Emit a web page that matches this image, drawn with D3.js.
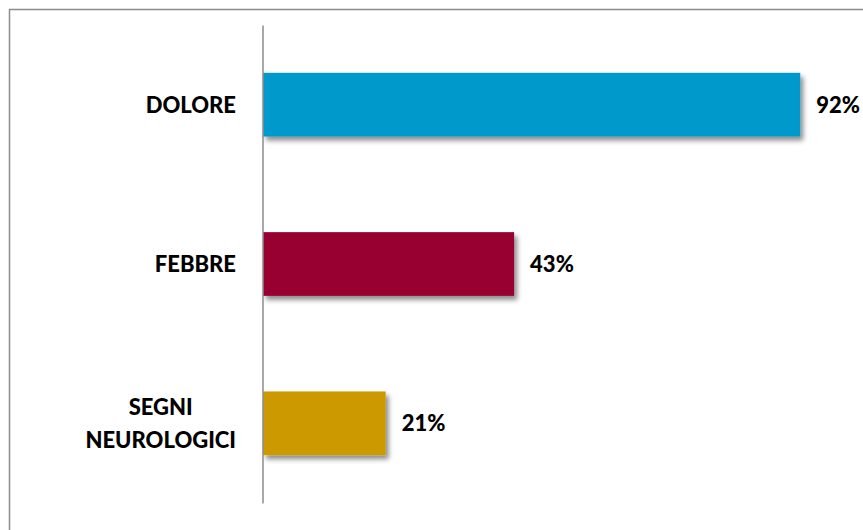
<!DOCTYPE html>
<html>
<head>
<meta charset="utf-8">
<script src="https://cdn.jsdelivr.net/npm/d3@7"></script>
<style>
  html, body { margin: 0; padding: 0; background: #fff; }
  svg { display: block; }
  text { font-family: Lato, "Open Sans", sans-serif; font-weight: 900; fill: #000; }
</style>
</head>
<body>
<svg id="chart" width="863" height="530"></svg>
<script>
// Symptom frequencies (share of patients)
const categories = ["DOLORE", "FEBBRE", "SEGNI NEUROLOGICI"];
const categoryLines = [["DOLORE"], ["FEBBRE"], ["SEGNI", "NEUROLOGICI"]];
const values = [0.92, 0.43, 0.21];
const valueLabels = ["92%", "43%", "21%"];
const barColors = ["#0099CC", "#990033", "#CC9900"];

const svg = d3.select("#chart");
const W = 863, H = 530;

const fontSize = 22;
const capH = fontSize * 0.72;
const lineGap = 33;

// Outer chart frame (right and bottom edges run past the visible area)
svg.append("rect")
  .attr("x", 9.5).attr("y", 9.5)
  .attr("width", W + 20).attr("height", H + 20)
  .attr("fill", "none")
  .attr("stroke", "#8c8c8c")
  .attr("stroke-width", 1.5);

// Soft drop shadow for the bars
const defs = svg.append("defs");
const f = defs.append("filter").attr("id", "barShadow")
  .attr("x", "-10%").attr("y", "-20%").attr("width", "130%").attr("height", "160%");
f.append("feDropShadow")
  .attr("dx", 3).attr("dy", 4)
  .attr("stdDeviation", 2.5)
  .attr("flood-color", "#000")
  .attr("flood-opacity", 0.45);

const x = d3.scaleLinear().domain([0, 1]).range([263, 847]);
const y = d3.scaleBand().domain(categories).range([25, 503])
  .paddingInner(0.6).paddingOuter(0.3);

// Bars
svg.append("g").selectAll("rect")
  .data(categories)
  .join("rect")
  .attr("x", x(0))
  .attr("y", d => y(d))
  .attr("width", (d, i) => x(values[i]) - x(0))
  .attr("height", y.bandwidth())
  .attr("fill", (d, i) => barColors[i])
  .attr("filter", "url(#barShadow)");

// Vertical category axis line
const yAxis = d3.axisLeft(y).tickSize(0).tickFormat("");
const axisG = svg.append("g").attr("transform", `translate(${x(0) - 0.5},0)`).call(yAxis);
axisG.select(".domain").attr("stroke", "#8c8c8c").attr("stroke-width", 1.5);

// Category labels: right-aligned block, lines centred within it
const labelRight = x(0) - 27;
const catG = svg.append("g");
categories.forEach((c, i) => {
  const lines = categoryLines[i];
  const cy = y(c) + y.bandwidth() / 2;
  const t = catG.append("text").attr("font-size", fontSize).attr("text-anchor", "middle");
  const firstBase = cy + capH / 2 - (lines.length - 1) * lineGap / 2;
  const spans = lines.map((ln, k) =>
    t.append("tspan").attr("y", firstBase + k * lineGap).text(ln));
  const maxW = d3.max(spans, s => s.node().getComputedTextLength());
  spans.forEach(s => s.attr("x", labelRight - maxW / 2));
});

// Value labels at bar ends
svg.append("g").selectAll("text")
  .data(categories)
  .join("text")
  .attr("font-size", fontSize)
  .attr("x", (d, i) => x(values[i]) + 16)
  .attr("y", d => y(d) + y.bandwidth() / 2 + capH / 2)
  .text((d, i) => valueLabels[i]);
</script>
</body>
</html>
